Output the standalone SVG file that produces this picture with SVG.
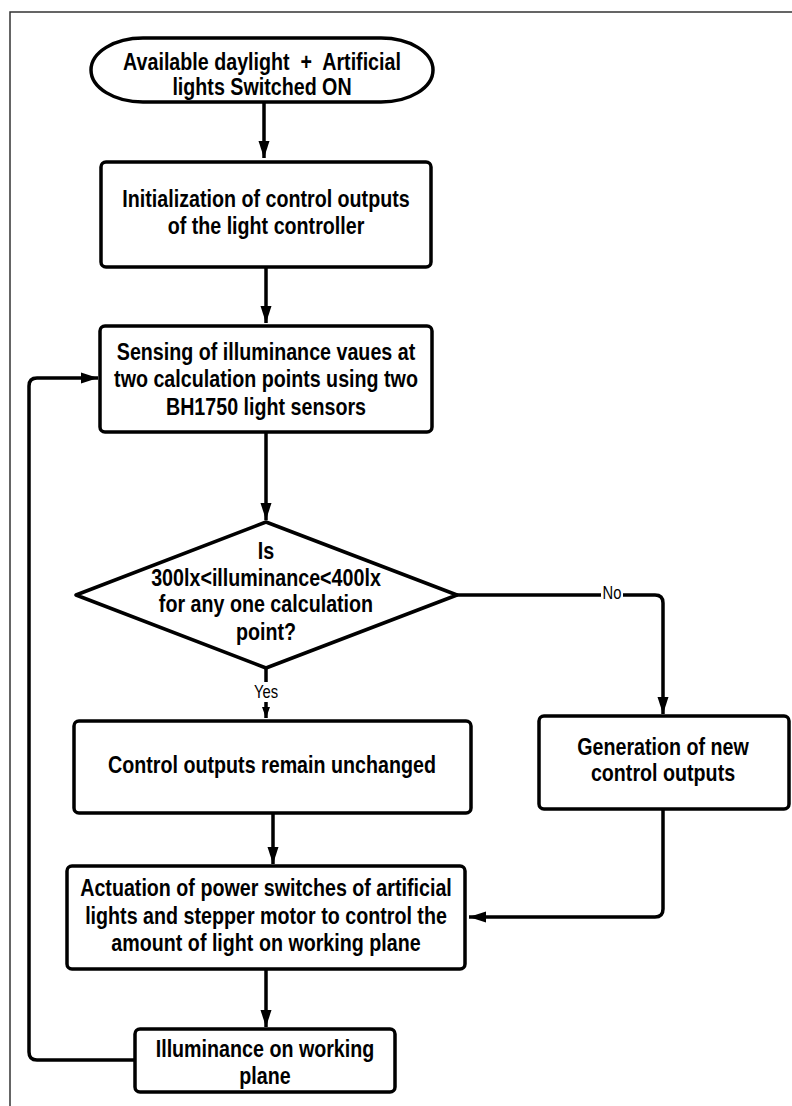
<svg xmlns="http://www.w3.org/2000/svg" width="792" height="1106" viewBox="0 0 792 1106">
  <defs>
    <marker id="arrow" markerUnits="userSpaceOnUse" markerWidth="18" markerHeight="12" refX="17" refY="6" orient="auto">
      <path d="M0,0.5 L17,6 L0,11.5 z" fill="#000"/>
    </marker>
    <marker id="arrowSmall" markerUnits="userSpaceOnUse" markerWidth="12" markerHeight="9" refX="11" refY="4.5" orient="auto">
      <path d="M0,0.5 L11,4.5 L0,8.5 z" fill="#000"/>
    </marker>
    <style>
      .shape { fill: #fff; stroke: #000; stroke-width: 3.5; }
      .label { font-family: "Liberation Sans", Arial, sans-serif; font-weight: bold; font-size: 24px; fill: #000; text-anchor: middle; }
      .edge-label { font-family: "Liberation Sans", Arial, sans-serif; font-size: 18px; fill: #000; text-anchor: middle; }
      .conn { fill: none; stroke: #000; stroke-width: 3.5; stroke-linejoin: round; }
      .frame { fill: none; stroke: #333; stroke-width: 1.5; }
    </style>
  </defs>

  <rect width="792" height="1106" fill="#fff"/>
  <!-- page frame -->
  <path class="frame" d="M10,1106 L10,12 L792,12"/>

  <!-- connectors -->
  <g id="connectors">
    <path class="conn" d="M264,102 L264,158" marker-end="url(#arrow)"/>
    <path class="conn" d="M266,267 L266,323" marker-end="url(#arrow)"/>
    <path class="conn" d="M266,432 L266,520" marker-end="url(#arrow)"/>
    <path class="conn" d="M266,668 L266,718" marker-end="url(#arrowSmall)"/>
    <path class="conn" d="M457,595 L655,595 Q663,595 663,603 L663,714" marker-end="url(#arrow)"/>
    <path class="conn" d="M273,813 L273,864" marker-end="url(#arrow)"/>
    <path class="conn" d="M663,809 L663,909 Q663,917 655,917 L469,917" marker-end="url(#arrow)"/>
    <path class="conn" d="M266,969 L266,1027" marker-end="url(#arrow)"/>
    <path class="conn" d="M135,1060 L37,1060 Q29,1060 29,1052 L29,386 Q29,378 37,378 L98,378" marker-end="url(#arrow)"/>
    <!-- branch labels -->
    <rect x="601" y="584" width="22" height="20" fill="#fff"/>
    <text class="edge-label" transform="translate(612,599) scale(0.82,1)">No</text>
    <rect x="252" y="682" width="28" height="20" fill="#fff"/>
    <text class="edge-label" transform="translate(266,698) scale(0.82,1)">Yes</text>
  </g>

  <g id="start">
    <rect class="shape" x="91" y="38" width="342" height="64" rx="52" ry="32"/>
    <text class="label" transform="translate(262,70) scale(0.82,1)" xml:space="preserve">Available daylight  +  Artificial</text>
    <text class="label" transform="translate(262,95) scale(0.82,1)">lights Switched ON</text>
  </g>

  <g id="init">
    <rect class="shape" x="101" y="162" width="330" height="105" rx="5"/>
    <text class="label" transform="translate(266,207) scale(0.82,1)">Initialization of control outputs</text>
    <text class="label" transform="translate(266,234) scale(0.82,1)">of the light controller</text>
  </g>

  <g id="sensing">
    <rect class="shape" x="100" y="326" width="332" height="106" rx="5"/>
    <text class="label" transform="translate(266,360) scale(0.82,1)">Sensing of illuminance vaues at</text>
    <text class="label" transform="translate(266,387) scale(0.82,1)">two calculation points using two</text>
    <text class="label" transform="translate(266,415) scale(0.82,1)">BH1750 light sensors</text>
  </g>

  <g id="decision">
    <path class="shape" d="M266,522 L457,595 L266,668 L76,595 Z" stroke-linejoin="round"/>
    <text class="label" transform="translate(266,559) scale(0.82,1)">Is</text>
    <text class="label" transform="translate(266,586) scale(0.82,1)">300lx&lt;illuminance&lt;400lx</text>
    <text class="label" transform="translate(266,612) scale(0.82,1)">for any one calculation</text>
    <text class="label" transform="translate(266,640) scale(0.82,1)">point?</text>
  </g>

  <g id="unchanged">
    <rect class="shape" x="74" y="721" width="397" height="92" rx="5"/>
    <text class="label" transform="translate(272,773) scale(0.82,1)">Control outputs remain unchanged</text>
  </g>

  <g id="generate">
    <rect class="shape" x="539" y="716" width="250" height="93" rx="5"/>
    <text class="label" transform="translate(663,755) scale(0.82,1)">Generation of new</text>
    <text class="label" transform="translate(663,781) scale(0.82,1)">control outputs</text>
  </g>

  <g id="actuation">
    <rect class="shape" x="67" y="866" width="398" height="103" rx="5"/>
    <text class="label" transform="translate(266,896) scale(0.82,1)">Actuation of power switches of artificial</text>
    <text class="label" transform="translate(266,924) scale(0.82,1)">lights and stepper motor to control the</text>
    <text class="label" transform="translate(266,951) scale(0.82,1)">amount of light on working plane</text>
  </g>

  <g id="illuminance">
    <rect class="shape" x="135" y="1029" width="260" height="63" rx="5"/>
    <text class="label" transform="translate(265,1057) scale(0.82,1)">Illuminance on working</text>
    <text class="label" transform="translate(265,1084) scale(0.82,1)">plane</text>
  </g>
</svg>
